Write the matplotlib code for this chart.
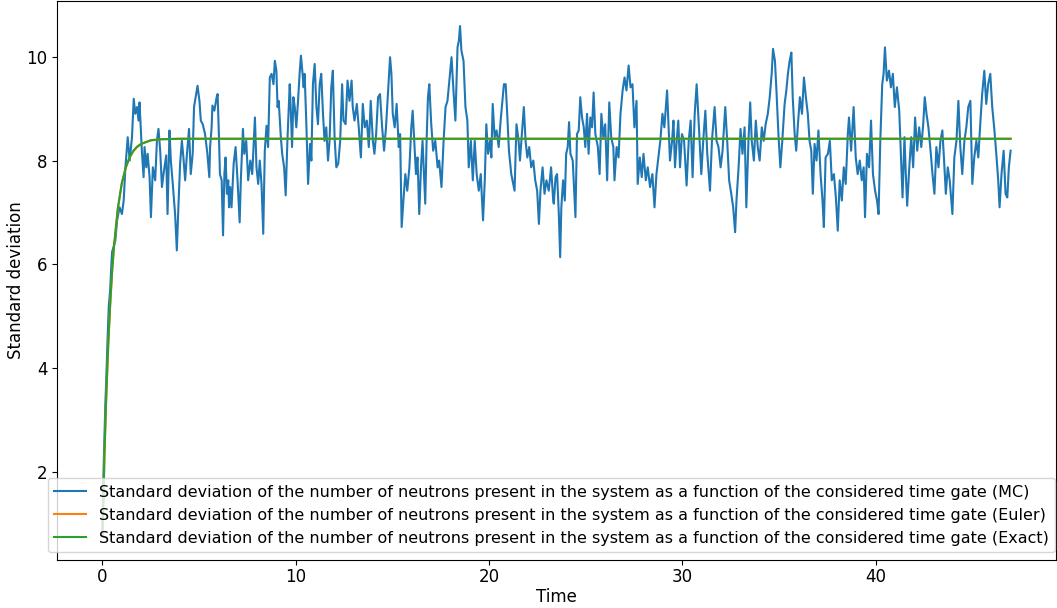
import numpy as np
import matplotlib
matplotlib.use("Agg")
import matplotlib.pyplot as plt

# Monte Carlo estimate
mc_time = [
    0.0, 0.05, 0.1, 0.15, 0.2, 0.27, 0.33, 0.4, 0.45,
    0.50, 0.67, 0.76, 0.89, 1.01, 1.10, 1.19, 1.31, 1.41, 1.53, 1.62, 1.70, 1.79, 1.87, 1.92, 1.99,
    2.04, 2.13, 2.18, 2.27, 2.34, 2.44, 2.51, 2.61, 2.73, 2.82, 2.90, 2.99, 3.08, 3.16, 3.30, 3.37,
    3.47, 3.54, 3.64, 3.76, 3.85, 3.93, 4.02, 4.11, 4.19, 4.28, 4.36, 4.48, 4.57, 4.67, 4.74, 4.85,
    4.92, 5.02, 5.09, 5.19, 5.31, 5.43, 5.53,
    5.57, 5.65, 5.69, 5.79, 5.91, 5.96, 6.03, 6.08, 6.17, 6.24, 6.31, 6.37, 6.44, 6.51, 6.55, 6.61,
    6.68, 6.79, 6.89, 6.99, 7.10, 7.16, 7.27, 7.34, 7.44, 7.54, 7.65, 7.75, 7.89, 7.97, 8.06, 8.14,
    8.23, 8.32, 8.40, 8.49, 8.57, 8.66, 8.75, 8.85, 8.92, 9.00, 9.06, 9.12, 9.23, 9.30, 9.40, 9.48,
    9.57, 9.69, 9.74, 9.81, 9.88, 9.95, 10.03, 10.12, 10.20, 10.27, 10.34, 10.41, 10.46, 10.55,
    10.64, 10.74, 10.81, 10.89, 10.98, 11.07, 11.15, 11.24, 11.32, 11.41,
    11.49, 11.58, 11.67, 11.75, 11.84, 11.92, 12.01, 12.10, 12.20, 12.30, 12.40, 12.47, 12.58, 12.68,
    12.78, 12.89, 12.95, 13.04, 13.16, 13.26, 13.37, 13.47, 13.57, 13.68, 13.78, 13.88, 13.99, 14.07,
    14.16, 14.26, 14.36, 14.47, 14.57, 14.67, 14.78, 14.88, 14.95, 15.02, 15.12, 15.22, 15.33, 15.40,
    15.48, 15.57, 15.67, 15.77, 15.88, 15.98, 16.05, 16.13, 16.22, 16.30, 16.39, 16.48, 16.56, 16.70,
    16.77, 16.84, 16.91, 17.01, 17.11, 17.22, 17.34,
    17.42, 17.54, 17.65, 17.75, 17.85, 17.95, 18.06, 18.16, 18.26, 18.37, 18.44, 18.50, 18.57, 18.68,
    18.78, 18.88, 18.95, 19.06, 19.16, 19.26, 19.36, 19.47, 19.57, 19.69, 19.78, 19.86, 19.95, 20.05,
    20.12, 20.19, 20.29, 20.39, 20.50, 20.60, 20.69, 20.77, 20.86, 20.94, 21.03, 21.15, 21.25, 21.32,
    21.42, 21.53, 21.60, 21.70, 21.80, 21.89, 21.98, 22.08, 22.18, 22.29, 22.39, 22.49, 22.58, 22.66,
    22.77, 22.87, 22.97, 23.09, 23.21, 23.32,
    23.35, 23.44, 23.52, 23.61, 23.68, 23.74, 23.83, 23.92, 23.99, 24.07, 24.14, 24.21, 24.33, 24.47,
    24.55, 24.64, 24.72, 24.81, 24.90, 24.98, 25.07, 25.15, 25.24, 25.33, 25.41, 25.50, 25.63, 25.72,
    25.81, 25.91, 26.01, 26.11, 26.22, 26.32, 26.43, 26.49, 26.60, 26.70, 26.80, 26.91, 27.01, 27.11,
    27.22, 27.32, 27.42, 27.52, 27.63, 27.69, 27.80, 27.90, 27.99, 28.11, 28.21, 28.33, 28.45, 28.56,
    28.66, 28.76, 28.86, 28.97, 29.07, 29.21,
    29.36, 29.47, 29.54, 29.62, 29.71, 29.79, 29.88, 29.98, 30.09, 30.22, 30.33, 30.43, 30.53, 30.64,
    30.74, 30.84, 30.98, 31.08, 31.19, 31.29, 31.43, 31.53, 31.67, 31.77, 31.87, 31.98, 32.08, 32.22,
    32.32, 32.42, 32.53, 32.63, 32.73, 32.80, 32.91, 33.01, 33.11, 33.22, 33.31, 33.42, 33.51, 33.59,
    33.70, 33.80, 33.90, 34.00, 34.11, 34.21, 34.31, 34.42, 34.52, 34.62, 34.69, 34.79, 34.86, 34.97,
    35.07, 35.17,
    35.29, 35.38, 35.46, 35.55, 35.64, 35.71, 35.81, 35.89, 35.98, 36.08, 36.19, 36.29, 36.39, 36.49,
    36.58, 36.67, 36.75, 36.84, 36.94, 37.04, 37.15, 37.25, 37.32, 37.41, 37.53, 37.63, 37.73, 37.84,
    37.94, 38.04, 38.14, 38.25, 38.35, 38.45, 38.56, 38.62, 38.73, 38.86, 38.97, 39.07, 39.18, 39.28,
    39.38, 39.45, 39.55, 39.66, 39.76, 39.86, 39.97, 40.07, 40.15, 40.24, 40.34, 40.41, 40.48, 40.58,
    40.69, 40.79, 40.89, 40.99, 41.10,
    41.22, 41.31, 41.39, 41.49, 41.56, 41.63, 41.74, 41.84, 41.94, 42.04, 42.15, 42.25, 42.36, 42.46,
    42.54, 42.63, 42.73, 42.84, 42.94, 43.04, 43.14, 43.25, 43.35, 43.45, 43.54, 43.63, 43.73, 43.83,
    43.97, 44.07, 44.18, 44.28, 44.38, 44.48, 44.59, 44.69, 44.79, 44.90, 45.00, 45.10, 45.21, 45.31,
    45.41, 45.51, 45.62, 45.72, 45.82, 45.93, 46.03, 46.13, 46.24, 46.34, 46.41, 46.51, 46.62, 46.72,
    46.81, 46.89, 46.98,
]
mc_std = [
    0.80, 1.90, 2.60, 3.30, 3.80, 4.60, 5.20, 5.50, 5.90,
    6.24, 6.46, 6.85, 7.10, 6.97, 7.23, 7.87, 8.45, 8.00, 8.45, 9.19, 8.90, 9.03, 8.77, 9.12, 8.58,
    8.19, 7.68, 8.26, 7.87, 8.13, 7.68, 6.91, 7.87, 7.62, 8.38, 8.61, 8.19, 7.49, 7.74, 8.10, 6.97,
    8.58, 8.00, 7.55, 6.97, 6.27, 7.10, 7.94, 8.38, 8.06, 7.62, 8.06, 8.61, 7.74, 8.13, 9.03, 9.28,
    9.44, 9.15, 8.77, 8.70, 8.51, 8.13, 7.68,
    8.26, 8.64, 9.06, 8.96, 9.22, 9.28, 8.45, 7.74, 7.62, 6.56, 7.74, 8.06, 7.36, 7.62, 7.10, 7.49,
    7.10, 7.94, 8.26, 7.62, 6.81, 7.62, 8.61, 8.13, 8.38, 7.62, 8.00, 7.74, 8.83, 7.87, 7.55, 8.00,
    7.55, 6.59, 8.19, 8.67, 8.26, 9.60, 9.67, 9.47, 9.92, 9.73, 9.03, 9.15, 8.45, 8.13, 7.87, 7.33,
    8.38, 9.47, 9.03, 8.26, 9.22, 9.03, 8.64, 9.15, 9.67, 10.02, 9.73, 9.41, 9.67, 8.70,
    7.55, 8.32, 8.00, 9.47, 9.86, 9.03, 8.70, 9.47, 9.67, 8.90,
    8.38, 8.64, 8.00, 8.38, 9.41, 9.73, 8.45, 7.87, 7.94, 8.38, 9.47, 8.77, 8.70, 9.54,
    9.15, 9.54, 9.03, 8.77, 9.09, 8.64, 8.06, 9.09, 8.64, 8.77, 8.26, 9.15, 8.38, 8.13,
    8.51, 9.22, 9.28, 8.64, 8.19, 8.64, 9.35, 9.99, 9.67, 8.90, 8.64, 9.09, 8.26, 8.51,
    6.72, 7.23, 7.74, 7.42, 7.87, 8.64, 8.96, 8.38, 7.74, 8.06, 6.97, 7.87, 8.38, 7.17,
    8.38, 9.22, 9.47, 8.70, 8.19, 8.38, 7.87,
    8.00, 7.49, 8.38, 9.03, 9.15, 9.54, 9.99, 9.35, 8.77, 10.18, 10.31, 10.59, 10.12, 9.92,
    9.03, 8.77, 7.87, 8.38, 7.62, 8.38, 7.74, 7.42, 7.74, 6.85, 7.62, 8.70, 8.13, 8.38,
    8.06, 9.09, 8.45, 8.58, 8.26, 8.77, 9.15, 9.47, 9.47, 8.90, 8.19, 7.74, 7.55, 7.42,
    8.70, 8.38, 8.00, 8.51, 9.03, 8.38, 8.06, 8.26, 7.87, 8.00, 7.62, 7.42, 6.78, 7.42,
    7.87, 7.36, 7.62, 7.42, 7.87, 7.23,
    7.17, 7.68, 7.74, 6.97, 6.14, 7.10, 7.62, 7.23, 8.13, 8.26, 8.74, 8.13, 8.00, 6.91,
    8.51, 8.58, 9.22, 8.83, 8.64, 8.26, 8.90, 8.13, 8.83, 8.64, 9.31, 8.51, 8.26, 7.74,
    8.90, 8.45, 8.70, 7.62, 9.12, 8.45, 8.26, 7.62, 8.26, 8.06, 8.90, 9.35, 9.60, 9.35,
    9.83, 9.41, 9.47, 8.64, 9.15, 7.55, 8.06, 7.68, 8.13, 7.62, 7.87, 7.49, 7.74, 7.10,
    7.74, 8.06, 8.38, 8.90, 8.64, 9.35,
    8.00, 8.38, 8.77, 7.87, 8.38, 8.77, 7.87, 8.51, 8.38, 7.52, 8.38, 8.77, 7.68, 8.90,
    9.47, 8.77, 7.74, 8.38, 8.96, 8.13, 7.42, 8.38, 9.03, 8.38, 8.26, 7.87, 8.19, 9.03,
    8.38, 7.62, 7.36, 7.10, 6.62, 7.23, 7.87, 8.61, 8.13, 8.64, 7.10, 8.38, 9.12, 8.38,
    8.00, 8.77, 8.26, 8.00, 8.64, 8.38, 8.70, 8.90, 9.22, 9.67, 10.15, 9.92, 9.41, 8.51,
    7.87, 8.38,
    9.09, 9.35, 9.67, 9.92, 10.08, 9.22, 8.51, 8.19, 8.70, 9.22, 8.90, 9.60, 9.22, 8.90,
    8.38, 8.19, 7.36, 8.32, 8.00, 8.58, 7.74, 7.23, 6.72, 8.06, 8.13, 8.38, 7.62, 7.74,
    7.30, 6.65, 7.62, 7.23, 7.87, 7.55, 8.51, 8.83, 8.19, 9.03, 8.06, 7.74, 8.00, 7.62,
    7.87, 6.91, 8.13, 7.87, 8.77, 7.74, 7.42, 7.23, 6.97, 8.38, 9.47, 9.67, 10.18, 9.54,
    9.73, 9.41, 9.67, 9.03, 9.41,
    8.96, 8.06, 7.29, 8.45, 7.74, 7.13, 7.87, 8.45, 7.87, 8.83, 8.19, 8.64, 8.26, 8.70,
    9.22, 8.90, 8.64, 8.19, 7.74, 7.36, 8.26, 7.87, 8.38, 8.58, 8.00, 7.36, 7.87, 7.62,
    6.97, 8.06, 8.38, 9.15, 8.26, 7.74, 8.38, 8.64, 9.03, 9.15, 7.55, 8.06, 8.38, 8.06,
    8.70, 9.28, 9.73, 9.09, 9.47, 9.67, 9.03, 8.64, 8.13, 7.62, 7.10, 7.74, 8.19, 7.36,
    7.29, 7.87, 8.19,
]

# deterministic solutions (Euler sits under the exact curve)
det_time = [0.0, 0.07, 0.1, 0.2, 0.3, 0.4, 0.5, 0.6, 0.8, 1.0, 1.2, 1.4, 1.6, 1.8, 2.0,
            2.5, 3.0, 4.0, 46.98]
euler_std = [0.80, 1.70, 2.25, 3.45, 4.42, 5.20, 5.84, 6.34, 7.07, 7.55, 7.85, 8.05, 8.18,
             8.26, 8.32, 8.39, 8.41, 8.42, 8.42]
exact_std = [0.80, 1.65, 2.29, 3.49, 4.46, 5.23, 5.86, 6.36, 7.09, 7.56, 7.86, 8.06, 8.19,
             8.27, 8.32, 8.39, 8.41, 8.42, 8.42]

label_base = ("Standard deviation of the number of neutrons present in the system "
              "as a function of the considered time gate")

plt.rc("axes", labelsize=12)
plt.rc("xtick", labelsize=12)
plt.rc("ytick", labelsize=12)

fig, ax = plt.subplots(figsize=(10.57, 6.08), dpi=100)
fig.subplots_adjust(left=57 / 1057, right=1056 / 1057, bottom=48 / 608, top=0.999)

ax.plot(mc_time, mc_std, color="#1f77b4", lw=1.5, label=label_base + " (MC)")
ax.plot(det_time, euler_std, color="#ff7f0e", lw=1.5, label=label_base + " (Euler)")
ax.plot(det_time, exact_std, color="#2ca02c", lw=1.5, label=label_base + " (Exact)")

ax.set_xlabel("Time", labelpad=1)
ax.set_ylabel("Standard deviation", labelpad=1)
ax.tick_params(axis="x", pad=2.5)
ax.set_yticks([2, 4, 6, 8, 10])
ax.legend(loc="lower center", bbox_to_anchor=(0.495, 0.0), fontsize=11.5,
          labelspacing=0.5, borderaxespad=0.5)

fig.savefig("out.png", dpi=100)
